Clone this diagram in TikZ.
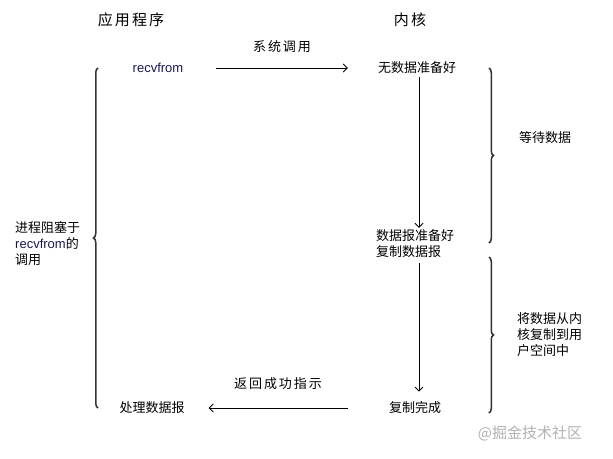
\documentclass[tikz,border=0pt]{standalone}
\usepackage{fontspec}
\setmainfont{Noto Sans CJK SC}
\newfontfamily\latin{Liberation Sans}
\usetikzlibrary{arrows.meta,decorations.pathreplacing}
\definecolor{navy}{RGB}{24,24,84}
\begin{document}
\begin{tikzpicture}[x=1pt,y=-1pt,
  txt/.style={inner sep=2pt,font=\fontsize{13}{16}\selectfont,align=left},
  title/.style={inner sep=2pt,font=\fontsize{15}{18}\selectfont\addfontfeature{LetterSpace=14}},
  label/.style={inner sep=2pt,font=\fontsize{13}{16}\selectfont\addfontfeature{LetterSpace=15}},
  arr/.style={draw=black,line width=0.9pt,-{Straight Barb[length=4pt,width=8pt]}},
  bracestyle/.style={draw=black!80,line width=1.5pt,
    decorate,decoration={brace,amplitude=4.5pt,aspect=0.5}},
  rcv/.style={text=navy,font=\fontsize{13}{16}\selectfont\latin}]
\useasboundingbox (0,0) rectangle (613,458);
\fill[white] (0,0) rectangle (613,458);

% column headings
\node[title] (app) at (131,20) {应用程序};
\node[title] (kern) at (410,20) {内核};

% process steps
\node[txt,rcv] (recv) at (158,68) {recvfrom};
\node[txt] (nodata) at (417,68) {无数据准备好};
\node[txt] (ready) at (415,244) {数据报准备好\\复制数据报};
\node[txt] (done) at (415,408) {复制完成};
\node[txt] (handle) at (152,408) {处理数据报};

% arrow labels
\node[label] (sys) at (282,47) {系统调用};
\node[label] (ret) at (278,384) {返回成功指示};

% side notes
\node[txt] (wait) at (545,138) {等待数据};
\node[txt,anchor=west] (copy) at (515,335) {将数据从内\\核复制到用\\户空间中};
\node[txt,anchor=west] (block) at (13,244) {进程阻塞于\\{\latin\color{navy}recvfrom}的\\调用};

% kernel column guide
\coordinate (kx) at (419,0);

% connectors
\draw[arr,shorten <=31pt,shorten >=28pt] (recv.east) -- (nodata.west);
\draw[arr,shorten <=1pt,shorten >=0pt] (nodata.south -| kx) -- (ready.north -| kx);
\draw[arr,shorten <=3pt,shorten >=8pt] (ready.south -| kx) -- (done.north -| kx);
\draw[arr,shorten <=39pt,shorten >=22pt] (done.west) -- (handle.east);

% braces
\coordinate (lb1) at (98,408);
\coordinate (lb2) at (98,68);
\coordinate (rb1) at (489,68);
\coordinate (rb2) at (489,243);
\coordinate (rb3) at (489,257);
\coordinate (rb4) at (489,413);
\draw[bracestyle] (lb1) -- (lb2);
\draw[bracestyle] (rb1) -- (rb2);
\draw[bracestyle] (rb3) -- (rb4);

% watermark
\node[inner sep=0pt,text=black!30,font=\fontsize{15}{18}\selectfont] (wm) at (530,433) {@掘金技术社区};
\end{tikzpicture}
\end{document}
